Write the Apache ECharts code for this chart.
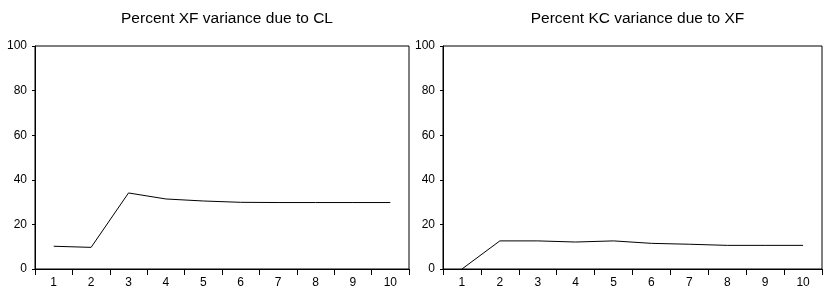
<!DOCTYPE html>
<html><head><meta charset="utf-8">
<script src="https://cdn.jsdelivr.net/npm/echarts@6/dist/echarts.min.js"></script>
<style>html,body{margin:0;padding:0;background:#fff}#c{width:824px;height:295px}</style>
</head><body><div id="c"></div>
<script>
const periods = ['1','2','3','4','5','6','7','8','9','10'];
const xfDueToCL = [10.2, 9.7, 34.1, 31.4, 30.5, 29.9, 29.8, 29.8, 29.8, 29.8];
const kcDueToXF = [0, 12.6, 12.6, 12.1, 12.6, 11.5, 11.1, 10.6, 10.6, 10.6];
const titles = ['Percent XF variance due to CL', 'Percent KC variance due to XF'];
const yTicks = [0, 20, 40, 60, 80, 100];

const font = 'Liberation Sans, Arial, sans-serif';
const grids = [
  {left: 35, top: 46, width: 374, height: 223},
  {left: 443, top: 46, width: 379, height: 223}
];
function xAxis(i){return {type:'category',gridIndex:i,data:periods,boundaryGap:true,
  axisLine:{lineStyle:{color:'#000',width:1}},
  axisTick:{show:true,inside:false,length:6,alignWithLabel:false,lineStyle:{color:'#000'}},
  axisLabel:{color:'#000',fontFamily:font,fontSize:12,margin:8},splitLine:{show:false}};}
function yAxis(i){return {type:'value',gridIndex:i,min:yTicks[0],max:yTicks[yTicks.length-1],interval:20,
  axisLine:{show:true,lineStyle:{color:'#000',width:1}},
  axisTick:{show:true,length:3,lineStyle:{color:'#000'}},
  axisLabel:{color:'#000',fontFamily:font,fontSize:12,margin:8},splitLine:{show:false}};}
const chart = echarts.init(document.getElementById('c'), null, {renderer:'canvas'});
chart.setOption({
  animation:false,
  title: titles.map((t,i)=>({text:t,left:grids[i].left+grids[i].width/2,top:6,textAlign:'center',
    textStyle:{fontFamily:font,fontSize:15.5,fontWeight:'normal',color:'#000'}})),
  grid: grids.map(g=>Object.assign({show:true,borderColor:'#000',borderWidth:1,backgroundColor:'#fff'},g)),
  xAxis:[xAxis(0),xAxis(1)],
  yAxis:[yAxis(0),yAxis(1)],
  series:[
    {type:'line',xAxisIndex:0,yAxisIndex:0,data:xfDueToCL,showSymbol:false,lineStyle:{color:'#000',width:1}},
    {type:'line',xAxisIndex:1,yAxisIndex:1,data:kcDueToXF,showSymbol:false,lineStyle:{color:'#000',width:1}}
  ]
});
</script></body></html>
